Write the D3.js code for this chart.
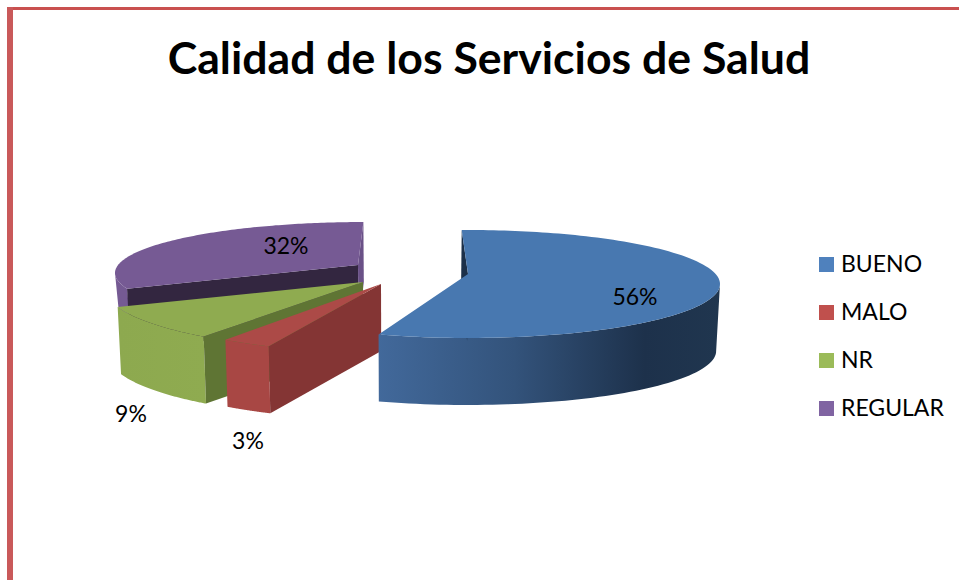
<!DOCTYPE html>
<html>
<head>
<meta charset="utf-8">
<script src="https://cdnjs.cloudflare.com/ajax/libs/d3/7.8.5/d3.min.js"></script>
<style>
html,body{margin:0;padding:0;background:#fff;overflow:hidden}
svg{display:block}
text{font-family:Lato,"Open Sans",sans-serif;fill:#000}
</style>
</head>
<body>
<svg id="chart" width="959" height="580"></svg>
<script>
const titleText = "Calidad de los Servicios de Salud";
const categories = ["BUENO", "MALO", "NR", "REGULAR"];
const values = [56, 3, 9, 32];
const valueLabels = ["56%", "3%", "9%", "32%"];
const legendColors = ["#4f81bd", "#c0504d", "#9bbb59", "#8064a2"];

// Drawing geometry of each exploded slice (not data)
const geometry = {
  BUENO: {apex:[468,274], ell:[468,284,252,54], A:258, B:63, S:-9, depth:67, wallDepth:67,
          top:"#4878b0", wall:"url(#blueWall)", faces:[{at:"start",color:"#1c3049"}], label:[635,305]},
  MALO: {apex:[381,284], ell:[387,291,262,62], A:277, B:67, S:11, depth:67, wallDepth:67,
          top:"#ac4a47", wall:"#a84744", faces:[{at:"start",color:"#843534"}], label:[248,449]},
  NR: {apex:[363,282], ell:[365,288,260,62], A:285, B:62, S:0, depth:67, wallDepth:67,
          top:"#8fab50", wall:"url(#greenWall)", faces:[{at:"start",color:"#5f7534"}], label:[131,422]},
  REGULAR: {apex:[358,265], ell:[365,273,250,51], A:254, B:56, S:7, depth:60, wallDepth:34,
          top:"#765a94", wall:"#755a93", faces:[{at:"start",color:"#332640"},{at:"end",color:"#6a5187"}], label:[286,254]}
};

const svg = d3.select("#chart");
const defs = svg.append("defs");
function gradient(id, x1, x2, stops){
  const g = defs.append("linearGradient").attr("id", id).attr("gradientUnits","userSpaceOnUse")
    .attr("x1",x1).attr("x2",x2).attr("y1",0).attr("y2",0);
  stops.forEach(s => g.append("stop").attr("offset",s[0]).attr("stop-color",s[1]));
}
gradient("blueWall", 377, 720, [[0,"#42699b"],[0.4,"#33537b"],[0.78,"#1d314b"],[1,"#20364f"]]);
gradient("greenWall", 117, 207, [[0,"#8dA94f"],[1,"#8fab50"]]);

// Frame
svg.append("rect").attr("x",7).attr("y",7).attr("width",952).attr("height",3).attr("fill","#c9504f");
svg.append("rect").attr("x",7).attr("y",7).attr("width",6).attr("height",573).attr("fill","#c9595a");

// Title
svg.append("text").attr("x",489).attr("y",74).attr("text-anchor","middle")
  .attr("font-size",44.6).attr("font-weight",700).text(titleText);

// Pie
const pie = d3.pie().sort(null).value(d => d.value);
const slices = pie(categories.map((c,i) => ({name:c, value:values[i], label:valueLabels[i]})));

function rim(g, theta){
  const [cx,cy,rx,ry] = g.ell;
  const dx = g.A*Math.sin(theta) + g.S*Math.cos(theta);
  const dy = -g.B*Math.cos(theta);
  const ox = (g.apex[0]-cx)/rx, oy = (g.apex[1]-cy)/ry;
  const ux = dx/rx, uy = dy/ry;
  const a = ux*ux+uy*uy, b = 2*(ox*ux+oy*uy), c = ox*ox+oy*oy-1;
  const t = (-b+Math.sqrt(b*b-4*a*c))/(2*a);
  return [g.apex[0]+t*dx, g.apex[1]+t*dy];
}
const drop = (p, depth) => [p[0]+(400-p[0])*0.012, p[1]+depth];
const line = d3.line();
const poly = pts => line(pts)+"Z";

const pieLayer = svg.append("g");
["REGULAR","NR","MALO","BUENO"].forEach(name => {
  const s = slices.find(d => d.data.name === name);
  const g = geometry[name];
  const steps = d3.range(0, 121).map(i => s.startAngle+(s.endAngle-s.startAngle)*i/120);
  const arc = steps.map(t => rim(g,t));
  const front = arc.filter(p => p[1] >= g.ell[1]);
  pieLayer.append("path").attr("d", poly(front.concat(front.map(p => drop(p,g.wallDepth)).reverse()))).attr("fill",g.wall);
  g.faces.forEach(f => {
    const corner = rim(g, f.at==="start" ? s.startAngle : s.endAngle);
    pieLayer.append("path").attr("fill",f.color)
      .attr("d", poly([corner, g.apex, drop(g.apex,g.depth), drop(corner,g.depth)]));
  });
  pieLayer.append("path").attr("d", poly([g.apex].concat(arc))).attr("fill",g.top);
});

// Value labels
svg.append("g").selectAll("text").data(slices).join("text")
  .attr("x", d => geometry[d.data.name].label[0])
  .attr("y", d => geometry[d.data.name].label[1])
  .attr("text-anchor","middle").attr("font-size",23).text(d => d.data.label);

// Legend
const legendY = d3.scalePoint().domain(categories).range([257,401]);
const legend = svg.append("g").selectAll("g").data(categories).join("g")
  .attr("transform", d => `translate(819,${legendY(d)})`);
legend.append("rect").attr("width",15).attr("height",15).attr("fill",(d,i) => legendColors[i]);
legend.append("text").attr("x",22).attr("y",15).attr("font-size",23).text(d => d);
</script>
</body>
</html>
